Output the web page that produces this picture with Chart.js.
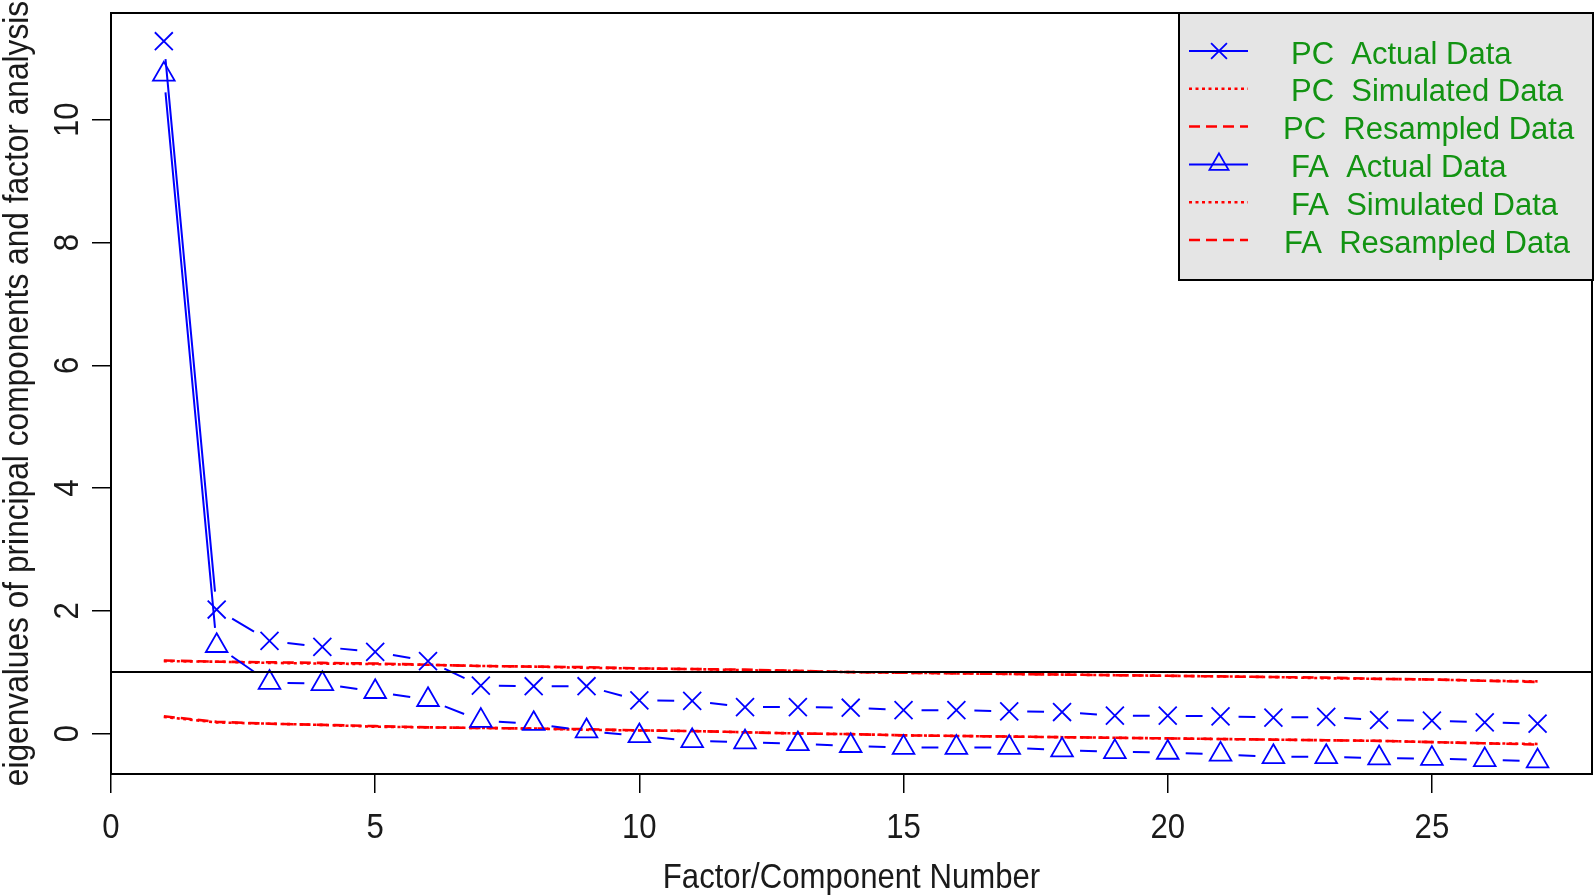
<!DOCTYPE html>
<html>
<head>
<meta charset="utf-8">
<script src="https://cdn.jsdelivr.net/npm/chart.js@4"></script>
<style>
  body { margin: 0; background: #fff; }
  canvas { display: block; }
</style>
</head>
<body>
<canvas id="scree" width="1594" height="896"></canvas>
<script>
// factor / component numbers
const factorNumbers = [1, 2, 3, 4, 5, 6, 7, 8, 9, 10, 11, 12, 13, 14, 15, 16, 17, 18, 19, 20, 21, 22, 23, 24, 25, 26, 27];

// eigenvalues
const pcActual = [11.28, 2.02, 1.51, 1.41, 1.33, 1.18, 0.78, 0.77, 0.77, 0.54, 0.53, 0.43, 0.43, 0.42, 0.38, 0.38, 0.36, 0.35, 0.29, 0.29, 0.28, 0.26, 0.27, 0.22, 0.21, 0.18, 0.16];
const pcSimulated = [1.18, 1.17, 1.15, 1.14, 1.13, 1.12, 1.10, 1.09, 1.07, 1.06, 1.05, 1.03, 1.02, 1.00, 0.99, 0.98, 0.97, 0.96, 0.95, 0.94, 0.93, 0.92, 0.90, 0.89, 0.88, 0.86, 0.85];
const pcResampled = [1.19, 1.17, 1.16, 1.15, 1.14, 1.12, 1.10, 1.09, 1.08, 1.06, 1.05, 1.04, 1.02, 1.00, 0.99, 0.98, 0.97, 0.96, 0.95, 0.94, 0.93, 0.92, 0.91, 0.89, 0.88, 0.86, 0.84];
const faActual = [10.74, 1.43, 0.83, 0.81, 0.68, 0.55, 0.21, 0.16, 0.04, -0.04, -0.12, -0.14, -0.17, -0.20, -0.23, -0.23, -0.23, -0.27, -0.30, -0.31, -0.34, -0.38, -0.38, -0.40, -0.41, -0.43, -0.45];
const faSimulated = [0.27, 0.18, 0.16, 0.14, 0.11, 0.10, 0.09, 0.08, 0.06, 0.05, 0.04, 0.02, 0.00, -0.01, -0.03, -0.04, -0.05, -0.06, -0.07, -0.08, -0.09, -0.10, -0.11, -0.12, -0.14, -0.16, -0.17];
const faResampled = [0.28, 0.19, 0.16, 0.14, 0.12, 0.10, 0.09, 0.08, 0.07, 0.05, 0.04, 0.02, 0.00, -0.01, -0.03, -0.04, -0.05, -0.06, -0.07, -0.08, -0.09, -0.10, -0.11, -0.12, -0.14, -0.16, -0.18];

const xTickValues = [0, 5, 10, 15, 20, 25];
const yTickValues = [0, 2, 4, 6, 8, 10];
const cutoff = 1;
const xTitle = "Factor/Component Number";
const yTitle = "eigenvalues of principal components and factor analysis";

const AXIS_FONT = "35px 'Liberation Sans', Arial, sans-serif";
const SQUISH = 0.89; // R device text is narrower than Liberation Sans
const GAP = 18;

function pts(vals) {
  return vals.map((v, i) => ({ x: factorNumbers[i], y: v }));
}

function squishText(ctx, text, x, y, rot, sx) {
  ctx.save();
  ctx.translate(x, y);
  if (rot) ctx.rotate(rot);
  ctx.scale(sx || SQUISH, 1);
  ctx.fillText(text, 0, 0);
  ctx.restore();
}

// R type="b": line segments that stop short of each point
const gapLines = {
  id: "gapLines",
  afterDatasetsDraw(chart) {
    const ctx = chart.ctx;
    chart.data.datasets.forEach((ds, i) => {
      if (!ds.gapLine) return;
      const p = chart.getDatasetMeta(i).data;
      ctx.save();
      ctx.strokeStyle = ds.borderColor;
      ctx.lineWidth = ds.borderWidth;
      ctx.beginPath();
      for (let k = 0; k < p.length - 1; k++) {
        const dx = p[k + 1].x - p[k].x;
        const dy = p[k + 1].y - p[k].y;
        const len = Math.hypot(dx, dy);
        if (len <= 2 * GAP) continue;
        const ux = dx / len, uy = dy / len;
        ctx.moveTo(p[k].x + ux * GAP, p[k].y + uy * GAP);
        ctx.lineTo(p[k + 1].x - ux * GAP, p[k + 1].y - uy * GAP);
      }
      ctx.stroke();
      ctx.restore();
    });
  },
};

// abline(h = 1), plot box, axis text, grey legend
const frame = {
  id: "frame",
  afterDatasetsDraw(chart) {
    const { ctx, chartArea: a, scales } = chart;
    const y = scales.y.getPixelForValue(cutoff);
    ctx.save();
    ctx.strokeStyle = "#000";
    ctx.lineWidth = 2;
    ctx.beginPath();
    ctx.moveTo(a.left, y);
    ctx.lineTo(a.right, y);
    ctx.stroke();
    ctx.restore();
  },
  afterDraw(chart) {
    const { ctx, chartArea: a, scales } = chart;
    ctx.save();
    ctx.strokeStyle = "#000";
    ctx.lineWidth = 2;
    ctx.strokeRect(a.left, a.top, a.right - a.left, a.bottom - a.top);

    // axis labels
    ctx.fillStyle = "#1a1a1a";
    ctx.font = AXIS_FONT;
    ctx.textAlign = "center";
    ctx.textBaseline = "alphabetic";
    scales.x.ticks.forEach((t) => {
      squishText(ctx, String(t.value), scales.x.getPixelForValue(t.value), 838);
    });
    scales.y.ticks.forEach((t) => {
      squishText(ctx, String(t.value), 78, scales.y.getPixelForValue(t.value), -Math.PI / 2);
    });
    squishText(ctx, xTitle, (a.left + a.right) / 2, 888);
    squishText(ctx, yTitle, 28, (a.top + a.bottom) / 2, -Math.PI / 2, 0.905);

    // legend
    const boxW = 414, boxH = 267;
    const x0 = a.right - boxW + 1, y0 = a.top;
    ctx.fillStyle = "#e5e5e5";
    ctx.fillRect(x0, y0, boxW, boxH);
    ctx.strokeRect(x0, y0, boxW, boxH);
    const textX = [112, 112, 104, 112, 112, 105];
    ctx.font = "31px 'Liberation Sans', Arial, sans-serif";
    ctx.textAlign = "left";
    ctx.textBaseline = "middle";
    chart.data.datasets.forEach((ds, i) => {
      const ly = y0 + 38 + i * 37.8;
      ctx.save();
      ctx.strokeStyle = ds.borderColor;
      ctx.lineWidth = ds.gapLine ? 2 : 2.5;
      ctx.setLineDash(ds.borderDash || []);
      ctx.beginPath();
      ctx.moveTo(x0 + 10, ly);
      ctx.lineTo(x0 + 69, ly);
      ctx.stroke();
      ctx.setLineDash([]);
      if (ds.gapLine) {
        ctx.fillStyle = "rgba(0,0,0,0)";
        ctx.lineWidth = ds.pointBorderWidth;
        Chart.helpers.drawPoint(ctx, { pointStyle: ds.pointStyle, radius: ds.pointRadius - 1.5, rotation: 0, borderWidth: ds.pointBorderWidth }, x0 + 40, ly);
      }
      ctx.restore();
      ctx.fillStyle = "#129312";
      ctx.fillText(ds.label, x0 + textX[i], ly + 4);
    });
    ctx.restore();
  },
};

function actualSet(label, vals, style, radius) {
  return {
    label: label,
    data: pts(vals),
    showLine: false,
    gapLine: true,
    borderColor: "#0000ff",
    borderWidth: 2,
    pointStyle: style,
    pointRadius: radius,
    pointBorderWidth: 1.8,
    pointBorderColor: "#0000ff",
    pointBackgroundColor: "rgba(0,0,0,0)",
  };
}

function redSet(label, vals, dash) {
  return {
    label: label,
    data: pts(vals),
    showLine: true,
    borderColor: "#ff0000",
    borderWidth: 2.6,
    borderDash: dash,
    pointRadius: 0,
    fill: false,
    tension: 0,
  };
}

const gridOpts = { drawOnChartArea: false, drawTicks: true, tickLength: 19, color: "#000", lineWidth: 1.5 };

new Chart(document.getElementById("scree"), {
  type: "scatter",
  data: {
    datasets: [
      actualSet("PC  Actual Data", pcActual, "crossRot", 12.7),
      redSet("PC  Simulated Data", pcSimulated, [3, 3.5]),
      redSet("PC  Resampled Data", pcResampled, [11, 6]),
      actualSet("FA  Actual Data", faActual, "triangle", 12.5),
      redSet("FA  Simulated Data", faSimulated, [3, 3.5]),
      redSet("FA  Resampled Data", faResampled, [11, 6]),
    ],
  },
  options: {
    responsive: false,
    devicePixelRatio: 1,
    animation: false,
    layout: { autoPadding: false, padding: { top: 13, right: 2, left: 0, bottom: 0 } },
    plugins: { legend: { display: false }, tooltip: { enabled: false } },
    scales: {
      x: {
        type: "linear",
        min: 0,
        max: 28.03,
        afterBuildTicks: (s) => { s.ticks = xTickValues.map((v) => ({ value: v })); },
        afterFit: (s) => { s.height = 122; },
        grid: gridOpts,
        border: { display: false },
        ticks: { display: false },
      },
      y: {
        type: "linear",
        min: -0.66,
        max: 11.74,
        afterBuildTicks: (s) => { s.ticks = yTickValues.map((v) => ({ value: v })); },
        afterFit: (s) => { s.width = 111; },
        grid: gridOpts,
        border: { display: false },
        ticks: { display: false },
      },
    },
  },
  plugins: [gapLines, frame],
});
</script>
</body>
</html>
